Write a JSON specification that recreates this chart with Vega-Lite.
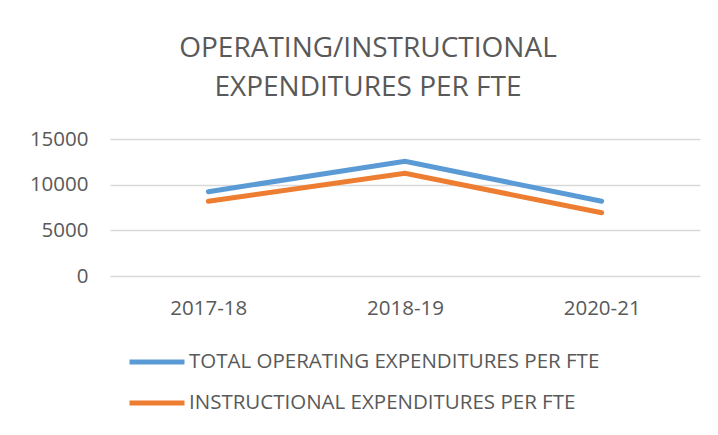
{
  "$schema": "https://vega.github.io/schema/vega-lite/v6.json",
  "width": 590,
  "height": 137,
  "autosize": {"type": "none"},
  "padding": {"left": 110, "top": 139, "right": 18, "bottom": 159},
  "background": "white",
  "title": {
    "text": ["OPERATING/INSTRUCTIONAL", "EXPENDITURES PER FTE"],
    "anchor": "middle",
    "dx": -37,
    "offset": 27,
    "font": "Open Sans",
    "fontSize": 28,
    "fontWeight": "normal",
    "color": "#595959",
    "lineHeight": 39
  },
  "data": {
    "values": [
      {"year": "2017-18", "series": "TOTAL OPERATING EXPENDITURES PER FTE", "value": 9230},
      {"year": "2018-19", "series": "TOTAL OPERATING EXPENDITURES PER FTE", "value": 12570},
      {"year": "2020-21", "series": "TOTAL OPERATING EXPENDITURES PER FTE", "value": 8180},
      {"year": "2017-18", "series": "INSTRUCTIONAL EXPENDITURES PER FTE", "value": 8180},
      {"year": "2018-19", "series": "INSTRUCTIONAL EXPENDITURES PER FTE", "value": 11250},
      {"year": "2020-21", "series": "INSTRUCTIONAL EXPENDITURES PER FTE", "value": 6920}
    ]
  },
  "mark": {"type": "line", "strokeWidth": 5, "strokeCap": "round", "strokeJoin": "miter"},
  "encoding": {
    "x": {
      "field": "year",
      "type": "nominal",
      "scale": {"paddingOuter": 0.5, "paddingInner": 0},
      "axis": {
        "title": null,
        "labelAngle": 0,
        "domain": false,
        "ticks": false,
        "labelPadding": 22,
        "labelFont": "Open Sans",
        "labelFontSize": 20.5,
        "labelColor": "#595959"
      }
    },
    "y": {
      "field": "value",
      "type": "quantitative",
      "scale": {"domain": [0, 15000], "nice": false},
      "axis": {
        "title": null,
        "values": [0, 5000, 10000, 15000],
        "format": "d",
        "domain": false,
        "ticks": false,
        "grid": true,
        "gridColor": "#D9D9D9",
        "gridWidth": 1.3,
        "labelPadding": 22,
        "labelFont": "Open Sans",
        "labelFontSize": 20.5,
        "labelColor": "#595959"
      }
    },
    "color": {
      "field": "series",
      "type": "nominal",
      "sort": ["TOTAL OPERATING EXPENDITURES PER FTE", "INSTRUCTIONAL EXPENDITURES PER FTE"],
      "scale": {
        "domain": ["TOTAL OPERATING EXPENDITURES PER FTE", "INSTRUCTIONAL EXPENDITURES PER FTE"],
        "range": ["#5B9BD5", "#ED7D31"]
      },
      "legend": {
        "title": null,
        "orient": "none",
        "legendX": 17,
        "legendY": 193,
        "direction": "vertical",
        "padding": 0,
        "symbolType": "stroke",
        "symbolSize": 3025,
        "symbolStrokeWidth": 5,
        "rowPadding": -10,
        "labelOffset": 2,
        "labelFont": "Open Sans",
        "labelFontSize": 20.5,
        "labelColor": "#595959",
        "labelLimit": 0
      }
    }
  },
  "config": {
    "view": {"stroke": null}
  }
}
